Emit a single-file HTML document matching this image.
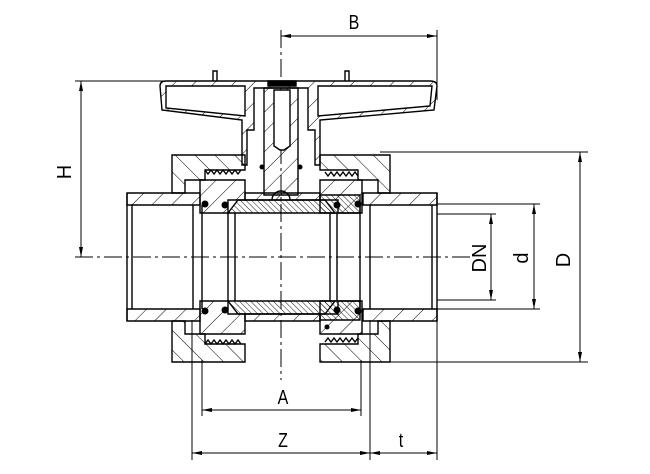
<!DOCTYPE html>
<html><head><meta charset="utf-8"><style>
html,body{margin:0;padding:0;background:#fff;width:650px;height:474px;overflow:hidden}
svg{display:block}
text{font-family:"Liberation Sans",sans-serif;fill:#000}
</style></head><body>
<svg width="650" height="474" viewBox="0 0 650 474" xmlns="http://www.w3.org/2000/svg">
<defs>
<pattern id="h" width="14" height="14" patternUnits="userSpaceOnUse" patternTransform="rotate(45)">
<line x1="0" y1="0" x2="0" y2="14" stroke="#000" stroke-width="1"/></pattern>
<pattern id="h2" width="14" height="14" patternUnits="userSpaceOnUse" patternTransform="rotate(-45)">
<line x1="0" y1="0" x2="0" y2="14" stroke="#000" stroke-width="1"/></pattern>
<pattern id="hf" width="4" height="4" patternUnits="userSpaceOnUse" patternTransform="rotate(-45)">
<line x1="0" y1="0" x2="0" y2="4" stroke="#000" stroke-width="0.9"/></pattern>
<marker id="a" viewBox="0 0 10 4" refX="10" refY="2" markerWidth="10" markerHeight="4" orient="auto-start-reverse" markerUnits="userSpaceOnUse"><path d="M0,0L10,2L0,4z" fill="#000"/></marker>
</defs>
<g stroke="#000" fill="none" stroke-width="1">
<!-- centre lines -->
<line x1="75" y1="257" x2="470" y2="257" stroke-dasharray="18,4,3,4"/>
<line x1="281" y1="30" x2="281" y2="380" stroke-dasharray="18,4,3,4"/>
<!-- dimensions -->
<line x1="281" y1="36" x2="437" y2="36" marker-start="url(#a)" marker-end="url(#a)"/>
<line x1="437" y1="30" x2="437" y2="100"/>
<line x1="75" y1="81" x2="165" y2="81"/>
<line x1="81" y1="81" x2="81" y2="257" marker-start="url(#a)" marker-end="url(#a)"/>
<line x1="380" y1="152" x2="588" y2="152"/>
<line x1="380" y1="362" x2="588" y2="362"/>
<line x1="580" y1="152" x2="580" y2="362" marker-start="url(#a)" marker-end="url(#a)"/>
<line x1="437" y1="204" x2="540" y2="204"/>
<line x1="437" y1="309" x2="540" y2="309"/>
<line x1="534" y1="204" x2="534" y2="309" marker-start="url(#a)" marker-end="url(#a)"/>
<line x1="437" y1="214" x2="496" y2="214"/>
<line x1="437" y1="300" x2="496" y2="300"/>
<line x1="491" y1="214" x2="491" y2="300" marker-start="url(#a)" marker-end="url(#a)"/>
<line x1="202" y1="360" x2="202" y2="416"/>
<line x1="361" y1="360" x2="361" y2="416"/>
<line x1="202" y1="410" x2="361" y2="410" marker-start="url(#a)" marker-end="url(#a)"/>
<line x1="192" y1="320" x2="192" y2="460"/>
<line x1="370" y1="320" x2="370" y2="460"/>
<line x1="437" y1="320" x2="437" y2="460"/>
<line x1="192" y1="453" x2="370" y2="453" marker-start="url(#a)" marker-end="url(#a)"/>
<line x1="370" y1="453" x2="437" y2="453" marker-start="url(#a)" marker-end="url(#a)"/>

<g stroke-width="1.4">
<!-- pipe ends -->
<path d="M127,193H200V205H127Z M127,309H200V321H127Z" fill="url(#h)"/>
<path d="M127,193V321 M132,205V309 M193,205V309"/>
<path d="M363,193H437V205H363Z M363,309H437V321H363Z" fill="url(#h)"/>
<path d="M437,193V321 M432,205V309 M370,205V309"/>
<!-- union nuts -->
<path d="M172,155H245V170H205V180H185V193H172Z" fill="url(#h2)"/>
<path d="M172,321H185V334H205V344H245V362H172Z" fill="url(#h2)"/>
<path d="M320,155H390V193H378V180H358V170H320Z" fill="url(#h2)"/>
<path d="M320,344H358V334H378V321H390V362H320Z" fill="url(#h2)"/>
<!-- threads -->
<path d="M205,170l3,4l3,-4l3,4l3,-4l3,4l3,-4l3,4l3,-4l3,4l3,-4l3,4l3,-4 M325,172l3,4l3,-4l3,4l3,-4l3,4l3,-4l3,4l3,-4l3,4l3,-4l3,4 M205,344l3,-4l3,4l3,-4l3,4l3,-4l3,4l3,-4l3,4l3,-4l3,4l3,-4l3,4 M325,342l3,-4l3,4l3,-4l3,4l3,-4l3,4l3,-4l3,4l3,-4l3,4l3,-4"/>
<!-- body -->
<path d="M200,180H245V200H228V213H200Z M200,301H228V314H245V334H200Z" fill="url(#h)"/>
<path d="M320,180H362V213H338V200H320Z M320,314H338V301H362V334H320Z" fill="url(#h)"/>
<path d="M245,193H320V200H245Z M245,314H320V321H245Z" fill="url(#h)"/>
<path d="M320,195H360V213H320Z M320,301H360V320H320Z" fill="url(#hf)"/>
<!-- ball -->
<path d="M238,200H325L335,213H228Z M228,301H335L325,314H238Z" fill="url(#hf)"/>
<path d="M228,213V301 M235,213V301 M330,213V301 M337,213V301 M202,205V309 M360,205V309"/>
<path d="M272,200a9,9 0 0 1 18,0"/>
<!-- seals -->
<g fill="#000" stroke="none">
<circle cx="205" cy="204" r="3.5"/><circle cx="225" cy="205" r="3.5"/><circle cx="337" cy="205" r="3.5"/><circle cx="358" cy="204" r="3.5"/>
<circle cx="205" cy="311" r="3.5"/><circle cx="225" cy="310" r="3.5"/><circle cx="337" cy="310" r="3.5"/><circle cx="358" cy="311" r="3.5"/>
<circle cx="262" cy="167" r="2.5"/><circle cx="300" cy="167" r="2.5"/><circle cx="327" cy="327" r="2.5"/>
</g>
<!-- stem -->
<path d="M264,88H298V195H264Z" fill="url(#h)"/>
<path d="M274,90H290V146L284,150H280L274,146Z" fill="#fff"/>
<!-- handle -->
<path d="M160,86Q160,81 166,81H430Q437,81 437,86L434,110L320,120V165H315V130H308V88H254V130H247V165H242V120L162,110Z" fill="url(#h)"/>
<path d="M166,86H245V116L166,108Z M318,86H432L430,106L318,116Z" fill="#fff"/>
<path d="M213,81V71h4v10 M345,81V71h4v10"/>
<path d="M268,81H296V86H268Z" fill="#000"/>
</g>
</g>
<g font-size="20" text-anchor="middle">
<text x="354" y="29" transform="translate(354,0) scale(0.8,1) translate(-354,0)">B</text>
<text x="64" y="172" transform="rotate(-90 64 172) translate(0,7)">H</text>
<text x="283" y="404" transform="translate(283,0) scale(0.8,1) translate(-283,0)">A</text>
<text x="283" y="447" transform="translate(283,0) scale(0.8,1) translate(-283,0)">Z</text>
<text x="401" y="447" transform="translate(401,0) scale(0.8,1) translate(-401,0)">t</text>
<text x="479" y="258" transform="rotate(-90 479 258) translate(0,7)">DN</text>
<text x="521" y="258" transform="rotate(-90 521 258) translate(0,7)">d</text>
<text x="563" y="260" transform="rotate(-90 563 260) translate(0,7)">D</text>
</g>
</svg>
</body></html>
